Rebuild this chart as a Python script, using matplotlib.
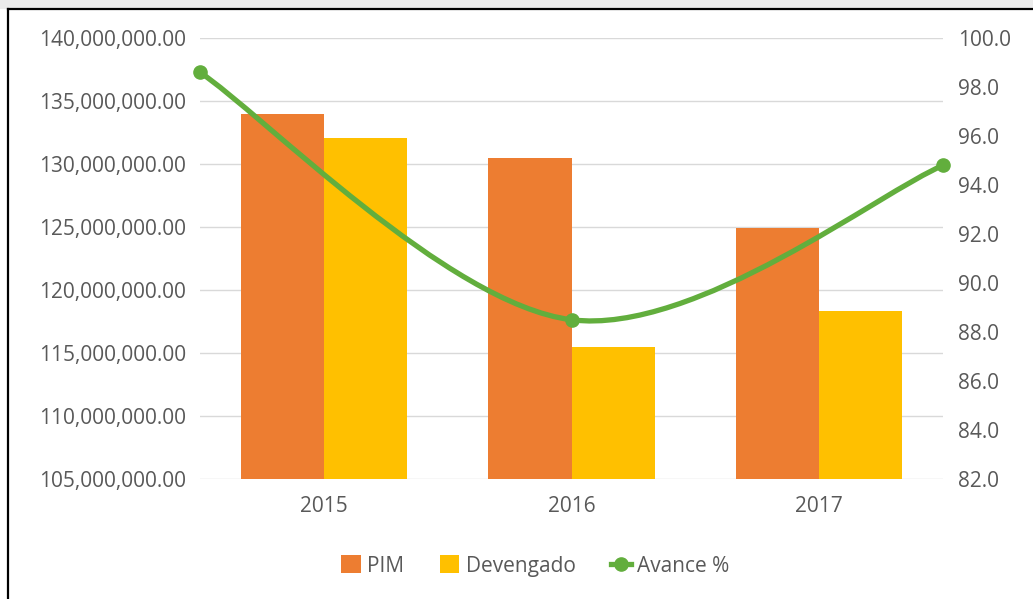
import matplotlib
matplotlib.use("Agg")
import matplotlib.pyplot as plt
import numpy as np
from matplotlib.path import Path
from matplotlib.patches import PathPatch, Patch, Rectangle
from matplotlib.lines import Line2D
from matplotlib.ticker import FuncFormatter, MultipleLocator

# Budget execution by year
years = ["2015", "2016", "2017"]
pim = [133_950_000, 130_500_000, 124_900_000]
devengado = [132_100_000, 115_500_000, 118_300_000]
avance = [98.6, 88.5, 94.8]

C_PIM = "#ED7D31"
C_DEV = "#FFC000"
C_AV = "#62AE3D"
C_TXT = "#595959"
C_GRID = "#D9D9D9"

plt.rcParams["font.family"] = ["Open Sans", "DejaVu Sans"]

fig = plt.figure(figsize=(10.33, 5.99), dpi=100)
fig.patch.set_facecolor("white")

pos = [0.1936, 0.2003, 0.7193, 0.7362]
ax = fig.add_axes(pos)

x = np.arange(len(years))
w = 0.336
ax.bar(x - w / 2, pim, width=w, color=C_PIM, zorder=2)
ax.bar(x + w / 2, devengado, width=w, color=C_DEV, zorder=2)

ax.set_xlim(-0.5, len(years) - 0.5)
ax.set_ylim(105_000_000, 140_000_000)
ax.yaxis.set_major_locator(MultipleLocator(5_000_000))
ax.yaxis.set_major_formatter(FuncFormatter(lambda v, p: f"{v:,.2f}"))
ax.set_xticks(x)
ax.set_xticklabels(years)
ax.grid(axis="y", color=C_GRID, linewidth=1.0, zorder=0)
ax.set_axisbelow(True)
for s in ax.spines.values():
    s.set_visible(False)
ax.tick_params(axis="both", length=0, labelsize=15, colors=C_TXT)
ax.tick_params(axis="y", pad=10)
ax.tick_params(axis="x", pad=12)

# Secondary axes for the percentage line (points on the category edges)
ax2 = ax.twinx()
ax2.set_ylim(82, 100)
ax2.yaxis.set_major_locator(MultipleLocator(2))
ax2.yaxis.set_major_formatter(FuncFormatter(lambda v, p: f"{v:.1f}"))
ax2.tick_params(axis="y", length=0, labelsize=15, colors=C_TXT, pad=11)
for s in ax2.spines.values():
    s.set_visible(False)

ax3 = ax2.twiny()
ax3.set_xlim(0, len(avance) - 1)
ax3.set_ylim(82, 100)
ax3.set_xticks([])
for s in ax3.spines.values():
    s.set_visible(False)


def smooth_path(xs, ys, k=1.0 / 6.0):
    pts = np.column_stack([xs, ys]).astype(float)
    n = len(pts)
    verts = [pts[0]]
    codes = [Path.MOVETO]
    for i in range(n - 1):
        p_prev = pts[max(i - 1, 0)]
        p0 = pts[i]
        p1 = pts[i + 1]
        p_next = pts[min(i + 2, n - 1)]
        c1 = p0 + (p1 - p_prev) * k
        c2 = p1 - (p_next - p0) * k
        verts += [c1, c2, p1]
        codes += [Path.CURVE4] * 3
    return Path(verts, codes)


xa = np.arange(len(avance))
curve = PathPatch(smooth_path(xa, avance), facecolor="none", edgecolor=C_AV,
                  linewidth=3.8, capstyle="round", zorder=5, clip_on=False)
ax3.add_patch(curve)
ax3.plot(xa, avance, linestyle="none", marker="o", markersize=9.5,
         color=C_AV, zorder=6, clip_on=False)

# Legend
handles = [
    Patch(facecolor=C_PIM, edgecolor="none", label="PIM"),
    Patch(facecolor=C_DEV, edgecolor="none", label="Devengado"),
    Line2D([], [], color=C_AV, linewidth=3.8, marker="o", markersize=9.5,
           label="Avance %"),
]
fig.legend(handles=handles, loc="center", bbox_to_anchor=(0.518, 0.055),
           ncol=3, frameon=False, fontsize=15, labelcolor=C_TXT,
           handlelength=0.95, handleheight=0.95, handletextpad=0.3,
           columnspacing=1.7)

# Light strip above the frame and the frame itself
fig.add_artist(Rectangle((0, 1 - 9 / 599), 1, 9 / 599, transform=fig.transFigure,
                         facecolor="#EBEBEB", edgecolor="none", zorder=-1))
fig.add_artist(Line2D([8 / 1033, 1.0], [1 - 9 / 599, 1 - 9 / 599],
                      transform=fig.transFigure, color="black", linewidth=1.6))
fig.add_artist(Line2D([8 / 1033, 8 / 1033], [0, 1 - 9 / 599],
                      transform=fig.transFigure, color="black", linewidth=1.6))

fig.savefig("out.png", dpi=100, facecolor=fig.get_facecolor())
